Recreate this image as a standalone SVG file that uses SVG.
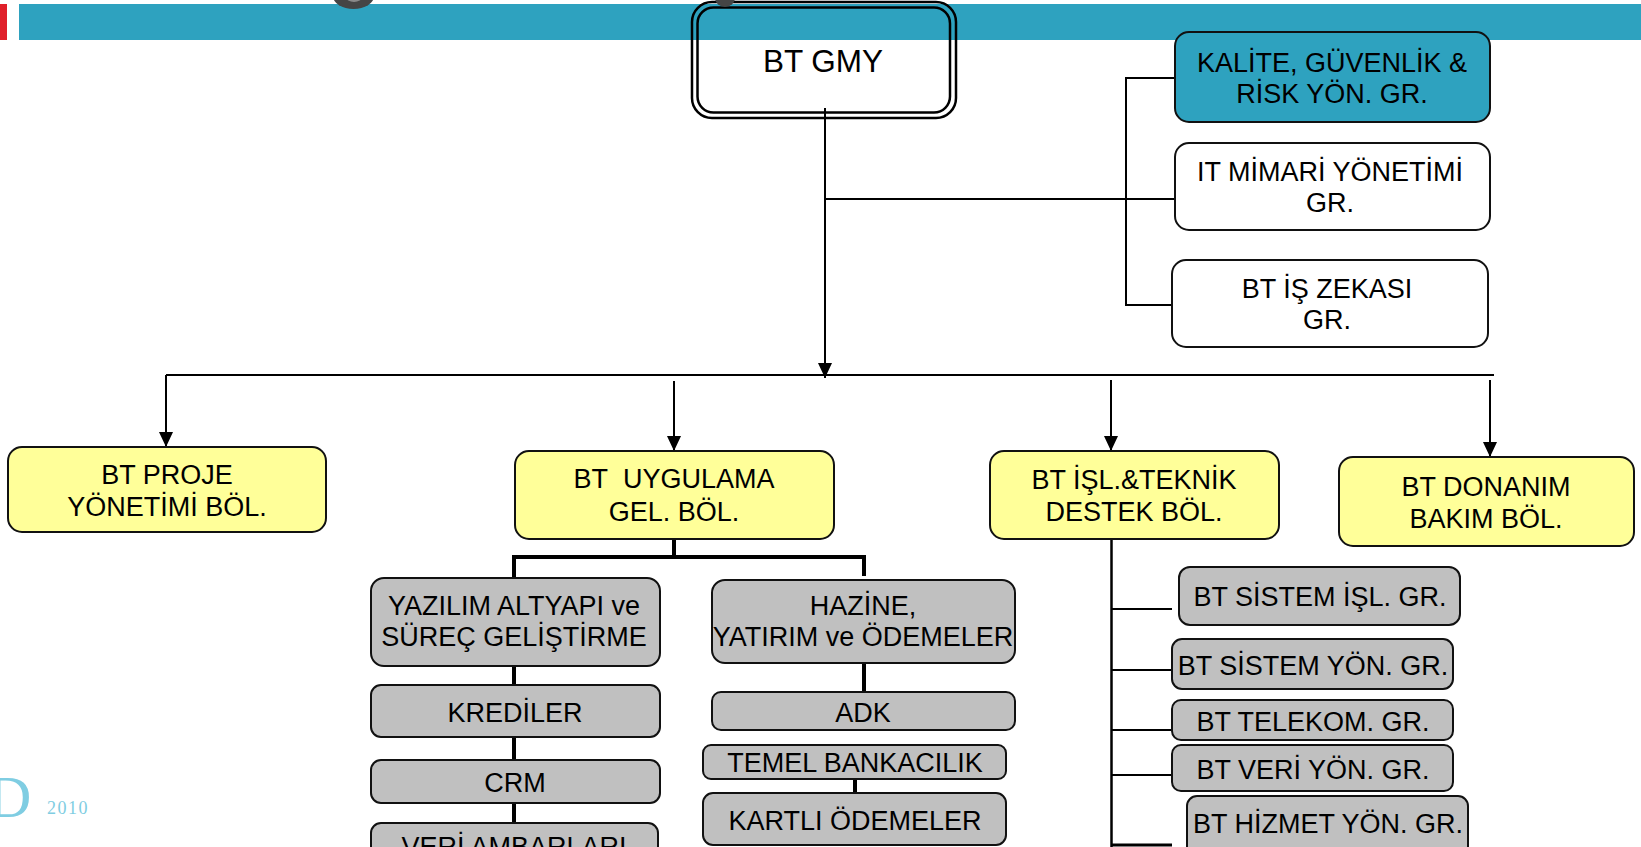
<svg xmlns="http://www.w3.org/2000/svg" width="1641" height="847" viewBox="0 0 1641 847">
<style>
text{font-family:"Liberation Sans",Arial,sans-serif;font-size:27px;fill:#000;text-anchor:middle}
.box{stroke:#111;stroke-width:2}
.yel{fill:#FFFF99}
.gry{fill:#C0C0C0}
.wht{fill:#fff}
.teal{fill:#2EA2BF}
.ln{stroke:#000;stroke-width:2;fill:none}
.thk{stroke:#000;stroke-width:4;fill:none}
.deco{font-family:"Liberation Serif","Times New Roman",serif;fill:#7FCDE2;text-anchor:start}
</style>
<defs>
<marker id="arr" markerUnits="userSpaceOnUse" markerWidth="15" markerHeight="14" refX="15" refY="7" orient="auto">
<path d="M0,0 L15,7 L0,14 z" fill="#000"/>
</marker>
</defs>
<rect width="1641" height="847" fill="#fff"/>
<!-- header bar -->
<rect x="0" y="4" width="7" height="36" fill="#E0202A"/>
<rect x="19" y="4" width="1622" height="36" class="teal"/>
<!-- decorative footer -->
<text class="deco" x="-12" y="817" style="font-size:60px">D</text>
<text class="deco" x="47" y="814" style="font-size:18px;letter-spacing:1.5px">2010</text>

<g id="connectors">
<line class="ln" x1="825" y1="108" x2="825" y2="378" marker-end="url(#arr)"/>
<line class="ln" x1="825" y1="199" x2="1175" y2="199"/>
<polyline class="ln" points="1175,78 1126,78 1126,305 1172,305"/>
<polyline class="ln" points="166,375 1494,375"/>
<line class="ln" x1="166" y1="375" x2="166" y2="447" marker-end="url(#arr)"/>
<line class="ln" x1="674" y1="381" x2="674" y2="451" marker-end="url(#arr)"/>
<line class="ln" x1="1111" y1="380" x2="1111" y2="451" marker-end="url(#arr)"/>
<line class="ln" x1="1490" y1="380" x2="1490" y2="457" marker-end="url(#arr)"/>
<line class="thk" x1="674" y1="540" x2="674" y2="557"/>
<polyline class="thk" points="514,578 514,557 864,557 864,576"/>
<line class="thk" x1="514" y1="666" x2="514" y2="685"/>
<line class="thk" x1="514" y1="737" x2="514" y2="760"/>
<line class="thk" x1="514" y1="803" x2="514" y2="823"/>
<line class="thk" x1="864" y1="663" x2="864" y2="692"/>
<line class="thk" x1="855" y1="779" x2="855" y2="793"/>
<line class="ln" x1="1111.5" y1="540" x2="1111.5" y2="847" style="stroke-width:2.5"/>
<line class="ln" x1="1111" y1="609" x2="1172" y2="609"/>
<line class="ln" x1="1111" y1="670" x2="1172" y2="670"/>
<line class="ln" x1="1111" y1="730" x2="1172" y2="730"/>
<line class="ln" x1="1111" y1="775" x2="1172" y2="775"/>
<line class="ln" x1="1111" y1="845" x2="1172" y2="845" style="stroke-width:3"/>
</g>

<g id="bt-gmy">
<rect x="692" y="2" width="264" height="116" rx="20" fill="none" stroke="#000" stroke-width="2.5"/>
<rect x="697.5" y="7.5" width="252.5" height="105" rx="16" fill="none" stroke="#000" stroke-width="2.5"/>
<text x="823" y="72" style="font-size:31.5px">BT GMY</text>
</g>
<!-- cut-off title fragments -->
<ellipse cx="353.5" cy="-4" rx="20.5" ry="13" fill="#454545"/>
<ellipse cx="354" cy="-3" rx="8" ry="5" fill="#8a8a8a"/>
<ellipse cx="725" cy="-2" rx="10" ry="9" fill="#454545"/>

<g id="kalite">
<rect class="box teal" x="1175" y="32" width="315" height="90" rx="14"/>
<text x="1332" y="72">KALİTE, GÜVENLİK &amp;</text>
<text x="1332" y="103">RİSK YÖN. GR.</text>
</g>
<g id="it-mimari">
<rect class="box wht" x="1175" y="143" width="315" height="87" rx="14"/>
<text x="1330" y="181">IT MİMARİ YÖNETİMİ</text>
<text x="1330" y="212">GR.</text>
</g>
<g id="is-zekasi">
<rect class="box wht" x="1172" y="260" width="316" height="87" rx="14"/>
<text x="1327" y="298">BT İŞ ZEKASI</text>
<text x="1327" y="329">GR.</text>
</g>

<g id="proje">
<rect class="box yel" x="8" y="447" width="318" height="85" rx="14"/>
<text x="167" y="484">BT PROJE</text>
<text x="167" y="516">YÖNETİMİ BÖL.</text>
</g>
<g id="uygulama">
<rect class="box yel" x="515" y="451" width="319" height="88" rx="14"/>
<text x="674" y="488">BT&#160; UYGULAMA</text>
<text x="674" y="521">GEL. BÖL.</text>
</g>
<g id="isl-teknik">
<rect class="box yel" x="990" y="451" width="289" height="88" rx="14"/>
<text x="1134" y="489">BT İŞL.&amp;TEKNİK</text>
<text x="1134" y="521">DESTEK BÖL.</text>
</g>
<g id="donanim">
<rect class="box yel" x="1339" y="457" width="295" height="89" rx="14"/>
<text x="1486" y="496">BT DONANIM</text>
<text x="1486" y="528">BAKIM BÖL.</text>
</g>

<g id="yazilim">
<rect class="box gry" x="371" y="578" width="289" height="88" rx="13"/>
<text x="514" y="615">YAZILIM ALTYAPI ve</text>
<text x="514" y="646">SÜREÇ GELİŞTİRME</text>
</g>
<g id="hazine">
<rect class="box gry" x="712" y="580" width="303" height="83" rx="13"/>
<text x="863" y="615">HAZİNE,</text>
<text x="863" y="646">YATIRIM ve ÖDEMELER</text>
</g>
<g id="krediler">
<rect class="box gry" x="371" y="685" width="289" height="52" rx="10"/>
<text x="515" y="722">KREDİLER</text>
</g>
<g id="crm">
<rect class="box gry" x="371" y="760" width="289" height="43" rx="10"/>
<text x="515" y="792">CRM</text>
</g>
<g id="veri-ambarlari">
<rect class="box gry" x="371" y="823" width="287" height="60" rx="10"/>
<text x="514" y="856">VERİ AMBARLARI</text>
</g>
<g id="adk">
<rect class="box gry" x="712" y="692" width="303" height="38" rx="9"/>
<text x="863" y="722">ADK</text>
</g>
<g id="temel">
<rect class="box gry" x="703" y="745" width="303" height="34" rx="8"/>
<text x="855" y="772">TEMEL BANKACILIK</text>
</g>
<g id="kartli">
<rect class="box gry" x="703" y="793" width="303" height="52" rx="10"/>
<text x="855" y="830">KARTLI ÖDEMELER</text>
</g>

<g id="sistem-isl">
<rect class="box gry" x="1179" y="567" width="281" height="58" rx="11"/>
<text x="1320" y="606">BT SİSTEM İŞL. GR.</text>
</g>
<g id="sistem-yon">
<rect class="box gry" x="1172" y="639" width="281" height="50" rx="10"/>
<text x="1313" y="675">BT SİSTEM YÖN. GR.</text>
</g>
<g id="telekom">
<rect class="box gry" x="1172" y="700" width="281" height="40" rx="9"/>
<text x="1313" y="731">BT TELEKOM. GR.</text>
</g>
<g id="veri-yon">
<rect class="box gry" x="1172" y="745" width="281" height="46" rx="9"/>
<text x="1313" y="779">BT VERİ YÖN. GR.</text>
</g>
<g id="hizmet-yon">
<rect class="box gry" x="1187" y="796" width="281" height="60" rx="10"/>
<text x="1328" y="833">BT HİZMET YÖN. GR.</text>
</g>
</svg>
